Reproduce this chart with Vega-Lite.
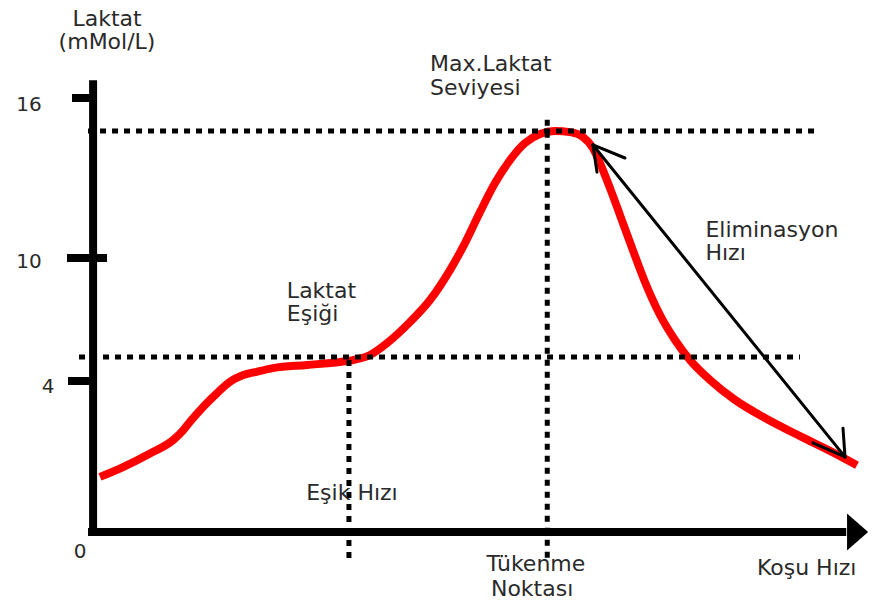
{
  "$schema": "https://vega.github.io/schema/vega-lite/v6.json",
  "width": 875,
  "height": 603,
  "padding": 0,
  "autosize": {"type": "none"},
  "background": "white",
  "config": {"view": {"stroke": null}},
  "datasets": {
    "segments": [
      {"kind": "axis", "x": 0, "y": 16.67, "x2": 0, "y2": -0.1},
      {"kind": "axis", "x": -0.67, "y": 0, "x2": 99.5, "y2": 0},
      {"kind": "tick", "x": -2.79, "y": 16, "x2": 0, "y2": 16},
      {"kind": "tick", "x": -3.45, "y": 10, "x2": 1.84, "y2": 10},
      {"kind": "tick", "x": -3.32, "y": 4, "x2": 0, "y2": 4},
      {"kind": "hguide", "x": -0.67, "y": 14.76, "x2": 96.03, "y2": 14.76},
      {"kind": "hguide", "x": -1.86, "y": 5.17, "x2": 93.39, "y2": 5.17},
      {"kind": "vguide", "x": 33.8, "y": 5.02, "x2": 33.8, "y2": -0.69},
      {"kind": "vguide", "x": 60, "y": 15.18, "x2": 60, "y2": -0.69},
      {"kind": "arrow", "x": 66.04, "y": 14.24, "x2": 99.34, "y2": 1.99},
      {"kind": "arrow", "x": 66.04, "y": 14.24, "x2": 70.27, "y2": 13.75},
      {"kind": "arrow", "x": 66.04, "y": 14.24, "x2": 66.57, "y2": 13.22},
      {"kind": "arrow", "x": 99.34, "y": 1.99, "x2": 99.07, "y2": 2.75},
      {"kind": "arrow", "x": 99.34, "y": 1.99, "x2": 95.11, "y2": 2.36}
    ],
    "curve": [
      {"speed": 0.91, "lactate": 1.46},
      {"speed": 3.95, "lactate": 1.72},
      {"speed": 7.52, "lactate": 2.08},
      {"speed": 10.6, "lactate": 2.44},
      {"speed": 11.92, "lactate": 2.7},
      {"speed": 12.8, "lactate": 2.92},
      {"speed": 14.56, "lactate": 3.32},
      {"speed": 16.33, "lactate": 3.67},
      {"speed": 18.09, "lactate": 3.98},
      {"speed": 19.84, "lactate": 4.29},
      {"speed": 21.61, "lactate": 4.45},
      {"speed": 23.77, "lactate": 4.63},
      {"speed": 28.26, "lactate": 4.78},
      {"speed": 32.62, "lactate": 4.93},
      {"speed": 34.34, "lactate": 5.02},
      {"speed": 36.58, "lactate": 5.27},
      {"speed": 38.83, "lactate": 5.85},
      {"speed": 41.87, "lactate": 6.88},
      {"speed": 44.51, "lactate": 7.95},
      {"speed": 47.15, "lactate": 9.41},
      {"speed": 49.13, "lactate": 10.56},
      {"speed": 51.11, "lactate": 11.72},
      {"speed": 53.1, "lactate": 12.81},
      {"speed": 55.08, "lactate": 13.67},
      {"speed": 57.06, "lactate": 14.31},
      {"speed": 59.04, "lactate": 14.65},
      {"speed": 61.02, "lactate": 14.76},
      {"speed": 63.01, "lactate": 14.72},
      {"speed": 64.72, "lactate": 14.54},
      {"speed": 66.04, "lactate": 14.12},
      {"speed": 66.97, "lactate": 13.56},
      {"speed": 68.29, "lactate": 12.62},
      {"speed": 69.61, "lactate": 11.61},
      {"speed": 71.2, "lactate": 10.38},
      {"speed": 72.91, "lactate": 8.83},
      {"speed": 74.9, "lactate": 7.22},
      {"speed": 76.88, "lactate": 6.0},
      {"speed": 78.86, "lactate": 5.02},
      {"speed": 81.5, "lactate": 4.05},
      {"speed": 84.8, "lactate": 3.5},
      {"speed": 88.77, "lactate": 3.02},
      {"speed": 93.39, "lactate": 2.54},
      {"speed": 97.35, "lactate": 2.15},
      {"speed": 100.92, "lactate": 1.77}
    ],
    "heads": [
      {"x": 101.0, "y": 0}
    ],
    "labels": [
      {"role": "title", "text": "Laktat", "x": 1.84, "y": 18.7},
      {"role": "title", "text": "(mMol/L)", "x": 1.84, "y": 17.84},
      {"role": "tick", "text": "16", "x": -8.47, "y": 15.51},
      {"role": "tick", "text": "10", "x": -8.47, "y": 9.51},
      {"role": "tick", "text": "4", "x": -5.96, "y": 3.68},
      {"role": "tick", "text": "0", "x": -1.73, "y": -0.69},
      {"role": "note", "text": "Max.Laktat", "x": 44.5, "y": 17.01},
      {"role": "note", "text": "Seviyesi", "x": 44.5, "y": 16.11},
      {"role": "note", "text": "Laktat", "x": 25.6, "y": 8.05},
      {"role": "note", "text": "Eşiği", "x": 25.6, "y": 6.93},
      {"role": "centred", "text": "Eşik Hızı", "x": 34.2, "y": 0.85},
      {"role": "centred", "text": "Tükenme", "x": 58.5, "y": -1.04},
      {"role": "centred", "text": "Noktası", "x": 58.0, "y": -1.70},
      {"role": "note", "text": "Eliminasyon", "x": 80.9, "y": 10.79},
      {"role": "note", "text": "Hızı", "x": 80.9, "y": 9.9},
      {"role": "note", "text": "Koşu Hızı", "x": 87.7, "y": -1.14}
    ]
  },
  "layer": [
    {
      "data": {"name": "curve"},
      "mark": {"type": "line", "color": "#ff0000", "strokeWidth": 8, "interpolate": "monotone", "strokeCap": "butt"},
      "encoding": {
        "x": {"field": "speed", "type": "quantitative", "scale": {"domain": [-12.3, 103.3], "nice": false, "zero": false}, "axis": null},
        "y": {"field": "lactate", "type": "quantitative", "scale": {"domain": [0, 4, 10, 16], "range": [532, 381, 258, 98], "nice": false, "zero": false}, "axis": null}
      }
    },
    {
      "data": {"name": "segments"},
      "transform": [{"filter": "datum.kind === 'hguide' || datum.kind === 'vguide'"}],
      "mark": {"type": "rule", "color": "#000000", "strokeWidth": 5, "strokeDash": [6, 6]},
      "encoding": {
        "x": {"field": "x", "type": "quantitative"},
        "y": {"field": "y", "type": "quantitative"},
        "x2": {"field": "x2"},
        "y2": {"field": "y2"}
      }
    },
    {
      "data": {"name": "segments"},
      "transform": [{"filter": "datum.kind === 'axis' || datum.kind === 'tick'"}],
      "mark": {"type": "rule", "color": "#000000", "strokeWidth": 8},
      "encoding": {
        "x": {"field": "x", "type": "quantitative"},
        "y": {"field": "y", "type": "quantitative"},
        "x2": {"field": "x2"},
        "y2": {"field": "y2"}
      }
    },
    {
      "data": {"name": "segments"},
      "transform": [{"filter": "datum.kind === 'arrow'"}],
      "mark": {"type": "rule", "color": "#000000", "strokeWidth": 3, "strokeCap": "round"},
      "encoding": {
        "x": {"field": "x", "type": "quantitative"},
        "y": {"field": "y", "type": "quantitative"},
        "x2": {"field": "x2"},
        "y2": {"field": "y2"}
      }
    },
    {
      "data": {"name": "heads"},
      "mark": {"type": "point", "shape": "M-0.57,-1 L0.57,0 L-0.57,1 Z", "filled": true, "color": "#000000", "opacity": 1, "size": 1369},
      "encoding": {
        "x": {"field": "x", "type": "quantitative"},
        "y": {"field": "y", "type": "quantitative"}
      }
    },
    {
      "data": {"name": "labels"},
      "transform": [{"filter": "datum.role === 'title'"}],
      "mark": {"type": "text", "font": "DejaVu Sans", "fontSize": 22, "color": "#2a2a2a", "align": "center", "baseline": "alphabetic"},
      "encoding": {
        "x": {"field": "x", "type": "quantitative"},
        "y": {"field": "y", "type": "quantitative"},
        "text": {"field": "text"}
      }
    },
    {
      "data": {"name": "labels"},
      "transform": [{"filter": "datum.role === 'tick'"}],
      "mark": {"type": "text", "font": "DejaVu Sans", "fontSize": 20, "color": "#2a2a2a", "align": "center", "baseline": "alphabetic"},
      "encoding": {
        "x": {"field": "x", "type": "quantitative"},
        "y": {"field": "y", "type": "quantitative"},
        "text": {"field": "text"}
      }
    },
    {
      "data": {"name": "labels"},
      "transform": [{"filter": "datum.role === 'note'"}],
      "mark": {"type": "text", "font": "DejaVu Sans", "fontSize": 22, "color": "#2a2a2a", "align": "left", "baseline": "alphabetic"},
      "encoding": {
        "x": {"field": "x", "type": "quantitative"},
        "y": {"field": "y", "type": "quantitative"},
        "text": {"field": "text"}
      }
    },
    {
      "data": {"name": "labels"},
      "transform": [{"filter": "datum.role === 'centred'"}],
      "mark": {"type": "text", "font": "DejaVu Sans", "fontSize": 22, "color": "#2a2a2a", "align": "center", "baseline": "alphabetic"},
      "encoding": {
        "x": {"field": "x", "type": "quantitative"},
        "y": {"field": "y", "type": "quantitative"},
        "text": {"field": "text"}
      }
    }
  ]
}
